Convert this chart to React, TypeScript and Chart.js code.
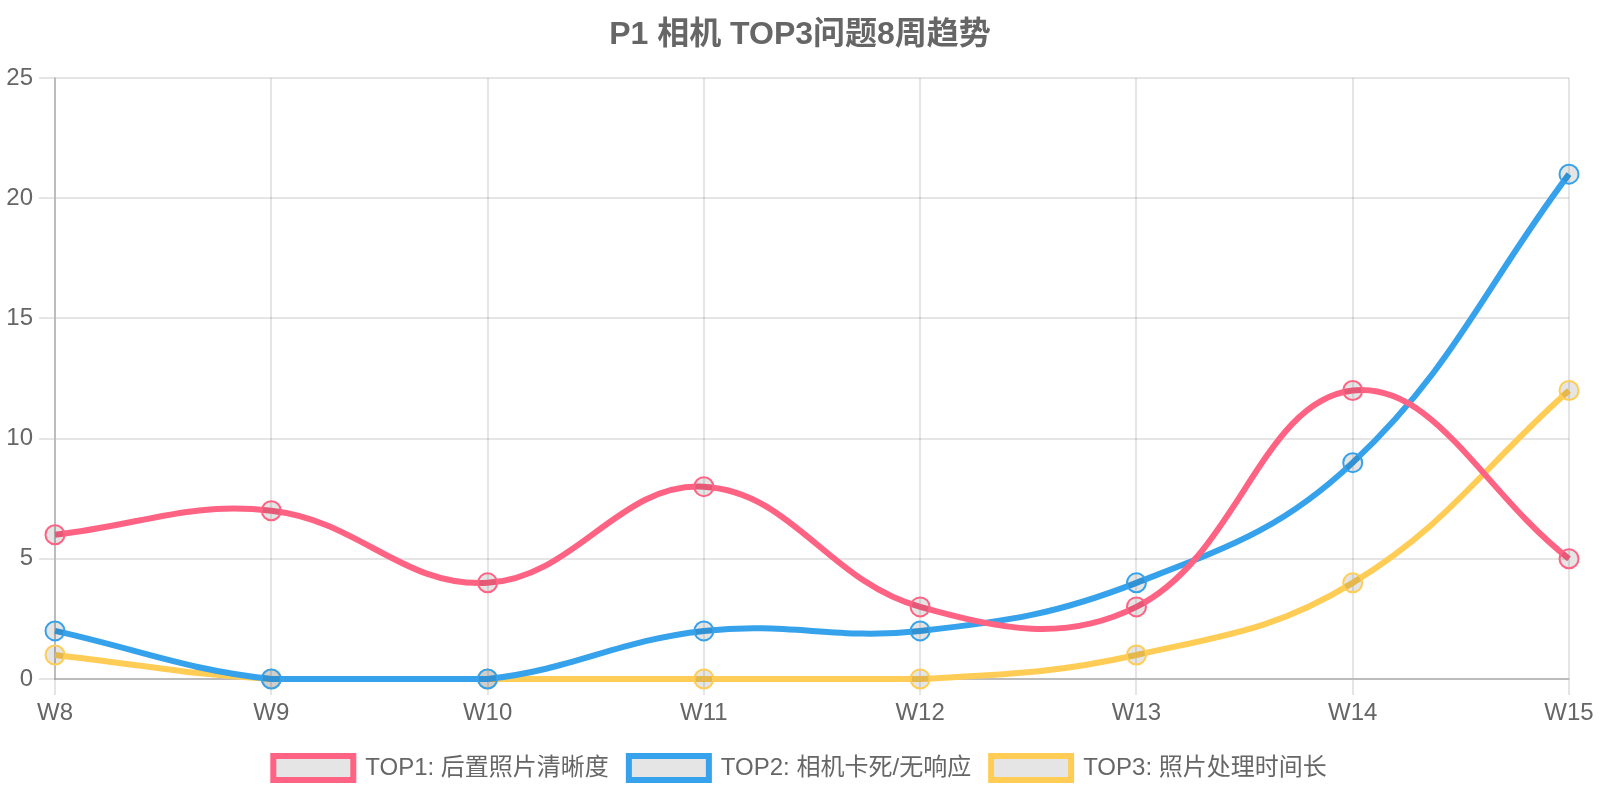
import React, { useEffect, useRef } from 'react'
import { Chart, registerables } from 'chart.js'

Chart.register(...registerables)

const weeks = ['W8', 'W9', 'W10', 'W11', 'W12', 'W13', 'W14', 'W15']
const top1Name = 'TOP1: 后置照片清晰度'
const top2Name = 'TOP2: 相机卡死/无响应'
const top3Name = 'TOP3: 照片处理时间长'
const top1Counts = [6, 7, 4, 8, 3, 3, 12, 5]
const top2Counts = [2, 0, 0, 2, 2, 4, 9, 21]
const top3Counts = [1, 0, 0, 0, 0, 1, 4, 12]
const chartTitle = 'P1 相机 TOP3问题8周趋势'

const FONT = "Arial, 'Liberation Sans', 'Noto Sans CJK SC', sans-serif"
const TEXT = '#666'
const GRID = 'rgba(0,0,0,0.1)'
const AXIS = 'rgba(0,0,0,0.18)'
const FILL = 'rgba(0,0,0,0.1)'

function series(label: string, data: number[], color: string) {
  return {
    label,
    data,
    borderColor: color,
    backgroundColor: FILL,
    pointBackgroundColor: FILL,
    pointBorderColor: color,
    borderWidth: 6,
    pointRadius: 9.5,
    pointBorderWidth: 2,
    tension: 0.4,
    fill: false,
    clip: false,
  }
}

export default function App() {
  const canvasRef = useRef<HTMLCanvasElement>(null)
  const chartRef = useRef<Chart | null>(null)

  useEffect(() => {
    if (!canvasRef.current) return
    chartRef.current?.destroy()
    chartRef.current = new Chart(canvasRef.current, {
      type: 'line',
      data: {
        labels: weeks,
        datasets: [
          series(top1Name, top1Counts, 'rgb(255, 99, 132)'),
          series(top2Name, top2Counts, 'rgb(54, 162, 235)'),
          series(top3Name, top3Counts, 'rgb(255, 205, 86)'),
        ],
      },
      options: {
        animation: false,
        responsive: true,
        maintainAspectRatio: false,
        layout: { padding: { bottom: 10 } },
        font: { family: FONT },
        color: TEXT,
        plugins: {
          title: {
            display: true,
            text: chartTitle,
            color: TEXT,
            font: { family: FONT, size: 32, weight: 'bold' },
            padding: { top: 16, bottom: 23.6 },
          },
          legend: {
            position: 'bottom',
            labels: {
              color: TEXT,
              font: { family: FONT, size: 24 },
              boxWidth: 80,
              boxHeight: 24,
              padding: 20,
            },
          },
          tooltip: { enabled: false },
        },
        scales: {
          x: {
            grid: { color: GRID, lineWidth: 2, tickLength: 16 },
            border: { color: AXIS, width: 2 },
            ticks: { color: TEXT, font: { family: FONT, size: 24 }, padding: 4, maxRotation: 0 },
            afterFit: (s: any) => {
              s.height = 57
              s.paddingRight = 31
            },
          },
          y: {
            min: 0,
            max: 25,
            grid: { color: GRID, lineWidth: 2, tickLength: 16 },
            border: { color: AXIS, width: 2 },
            ticks: { stepSize: 5, color: TEXT, font: { family: FONT, size: 24 }, padding: 6 },
            afterFit: (s: any) => {
              s.width = 55
            },
          },
        },
      },
    } as any)
    return () => chartRef.current?.destroy()
  }, [])

  return (
    <div style={{ position: 'absolute', left: 0, top: 0, width: 1600, height: 800, background: '#fff' }}>
      <canvas ref={canvasRef} />
    </div>
  )
}
